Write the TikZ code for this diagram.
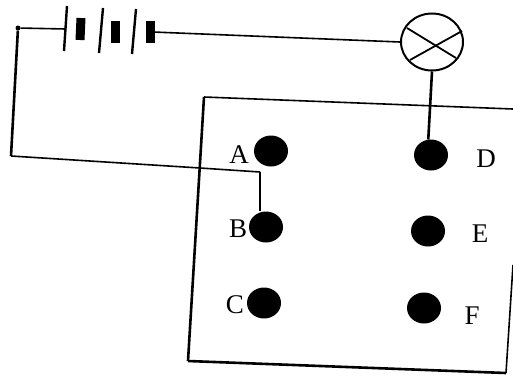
\documentclass[tikz,border=0pt]{standalone}
\usepackage{fontspec}
\setmainfont{Liberation Serif}
\usetikzlibrary{shapes.geometric}
\tikzset{
  wire/.style={line width=1.6pt,black},
  heavy/.style={line width=2.6pt,black},
  plate/.style={line width=2.4pt,black},
  cell/.style={line width=9pt,black},
  term/.style={ellipse,fill=black,inner sep=0pt,minimum width=34pt,minimum height=31pt},
  letter/.style={inner sep=0pt,font=\fontsize{27}{27}\selectfont},
  lamp/.style={ellipse,draw=black,line width=2pt,fill=white,inner sep=0pt,minimum width=62pt,minimum height=57pt},
  junction/.style={circle,fill=black,inner sep=0pt,minimum size=5pt}
}
\begin{document}
\begin{tikzpicture}[x=1pt,y=-1pt]
\useasboundingbox (0,0) rectangle (513,376);
% board
\coordinate (tl) at (204,97);
\coordinate (tr) at (513,109);
\coordinate (bl) at (188,361);
\coordinate (br) at (506,373);
\coordinate (rt) at (513,265);
\draw[wire] (tl) -- (tr);
\draw[heavy] (tl) -- (bl);
\draw[heavy] (bl) -- (br);
\draw[wire] (br) -- (rt);
% terminals
\node[term] (A) at (271,151) {};
\node[term] (B) at (266,227) {};
\node[term] (C) at (264,303) {};
\node[term] (D) at (431,155) {};
\node[term] (E) at (428,231) {};
\node[term] (F) at (424,308) {};
\node[letter] (la) at (239,155) {A};
\node[letter] (lb) at (238,229) {B};
\node[letter] (lc) at (235,305) {C};
\node[letter] (ld) at (486,159) {D};
\node[letter] (le) at (480,234) {E};
\node[letter] (lf) at (472,316) {F};
% battery
\coordinate (p1a) at (67,6);   \coordinate (p1b) at (64,51);
\coordinate (p2a) at (103,8);  \coordinate (p2b) at (99,53);
\coordinate (p3a) at (136,9);  \coordinate (p3b) at (132,54);
\coordinate (c1a) at (81,18);  \coordinate (c1b) at (80,40);
\coordinate (c2a) at (115,21); \coordinate (c2b) at (115,43);
\coordinate (c3a) at (150,21); \coordinate (c3b) at (150,43);
\draw[plate] (p1a) -- (p1b);
\draw[plate] (p2a) -- (p2b);
\draw[plate] (p3a) -- (p3b);
\draw[cell] (c1a) -- (c1b);
\draw[cell] (c2a) -- (c2b);
\draw[cell] (c3a) -- (c3b);
% lamp
\node[lamp] (L) at (432,42) {};
\coordinate (x1) at (407,28); \coordinate (x2) at (456,58);
\coordinate (x3) at (462,31); \coordinate (x4) at (410,60);
\draw[line width=1.8pt] (x1) -- (x2);
\draw[line width=1.8pt] (x3) -- (x4);
% wires
\coordinate (w0) at (66,29);
\coordinate (w1) at (153,32);
\coordinate (k1) at (11,156);
\coordinate (k2) at (200,168);
\coordinate (k3) at (260,172);
\node[junction] (J) at (18,28) {};
\draw[wire] (J) -- (w0);
\draw[heavy] (J) -- (k1);
\draw[wire] (k1) -- (k2) -- (k3);
\draw[heavy] (k3) -- (B.north -| k3);
\draw[wire] (w1) -- (L.west);
\draw[line width=2.6pt] (L.south) -- (D.100);
\end{tikzpicture}
\end{document}
